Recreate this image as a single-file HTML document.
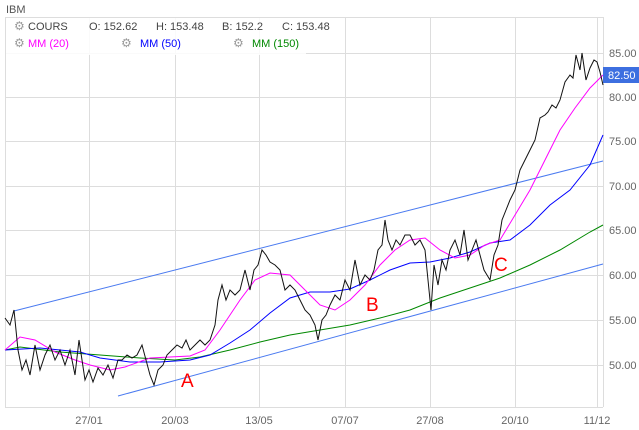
<!DOCTYPE html>
<html><head><style>
body{margin:0;background:#fff;}
svg{display:block;font-family:"Liberation Sans",Arial,sans-serif;}
</style></head><body>
<svg width="639" height="430" viewBox="0 0 639 430">
<rect width="639" height="430" fill="#fff"/>
<g stroke="#ddd" stroke-width="1">
<line x1="5.5" y1="17" x2="5.5" y2="407"/>
<line x1="89.5" y1="17" x2="89.5" y2="407"/>
<line x1="175.5" y1="17" x2="175.5" y2="407"/>
<line x1="259.5" y1="17" x2="259.5" y2="407"/>
<line x1="345.5" y1="17" x2="345.5" y2="407"/>
<line x1="430.5" y1="17" x2="430.5" y2="407"/>
<line x1="515.5" y1="17" x2="515.5" y2="407"/>
<line x1="597.5" y1="17" x2="597.5" y2="407"/>
<line x1="603.5" y1="17" x2="603.5" y2="407"/>
<line x1="5" y1="17.5" x2="603" y2="17.5"/>
<line x1="5" y1="53.5" x2="603" y2="53.5"/>
<line x1="5" y1="97.5" x2="603" y2="97.5"/>
<line x1="5" y1="141.5" x2="603" y2="141.5"/>
<line x1="5" y1="186.5" x2="603" y2="186.5"/>
<line x1="5" y1="230.5" x2="603" y2="230.5"/>
<line x1="5" y1="275.5" x2="603" y2="275.5"/>
<line x1="5" y1="320.5" x2="603" y2="320.5"/>
<line x1="5" y1="365.5" x2="603" y2="365.5"/>
<line x1="5" y1="407.5" x2="603" y2="407.5"/>
</g>
<rect x="6" y="18" width="300" height="37" fill="#fff" opacity="0.85"/>
<g font-size="11">
<text x="6" y="13" fill="#555">IBM</text>
<text x="14" y="30" fill="#999" font-size="12">⚙</text>
<text x="28" y="30" fill="#444">COURS</text>
<text x="89" y="30" fill="#444">O: 152.62</text>
<text x="156" y="30" fill="#444">H: 153.48</text>
<text x="222" y="30" fill="#444">B: 152.2</text>
<text x="282" y="30" fill="#444">C: 153.48</text>
<text x="14" y="47" fill="#999" font-size="12">⚙</text>
<text x="28" y="47" fill="#f0f">MM (20)</text>
<text x="121" y="47" fill="#999" font-size="12">⚙</text>
<text x="140" y="47" fill="#00f">MM (50)</text>
<text x="233" y="47" fill="#999" font-size="12">⚙</text>
<text x="252" y="47" fill="#080">MM (150)</text>
</g>
<g font-size="11" fill="#666">
<text x="609" y="57">85.00</text>
<text x="609" y="101">80.00</text>
<text x="609" y="145">75.00</text>
<text x="609" y="190">70.00</text>
<text x="609" y="234">65.00</text>
<text x="609" y="279">60.00</text>
<text x="609" y="324">55.00</text>
<text x="609" y="369">50.00</text>
<text x="89" y="424" text-anchor="middle">27/01</text>
<text x="175" y="424" text-anchor="middle">20/03</text>
<text x="259" y="424" text-anchor="middle">13/05</text>
<text x="345" y="424" text-anchor="middle">07/07</text>
<text x="430" y="424" text-anchor="middle">27/08</text>
<text x="515" y="424" text-anchor="middle">20/10</text>
<text x="597" y="424" text-anchor="middle">11/12</text>
</g>
<g fill="none" stroke-width="1">
<line x1="14" y1="311" x2="603" y2="161" stroke="#4a7af0"/>
<line x1="118" y1="396" x2="603" y2="264" stroke="#4a7af0"/>
<polyline stroke="#080" points="5,350 20,347 60,352 100,355 140,358 175,360 200,357 230,350 260,342 290,335 320,330 350,325 380,318 410,310 440,298 470,288 500,278 530,265 560,250 590,232 603,225"/>
<polyline stroke="#00f" points="5,350 40,348 80,352 100,358 130,362 160,362 190,360 210,355 230,343 250,330 270,313 290,298 310,292 330,292 350,289 370,280 390,270 410,263 430,262 450,258 470,252 490,243 510,240 530,225 550,205 570,190 590,165 603,135"/>
<polyline stroke="#f0f" points="5,350 20,337 35,340 55,352 75,360 90,365 110,370 125,367 150,358 170,357 190,356 205,350 220,330 240,300 255,280 270,273 290,275 305,290 320,305 335,310 350,300 365,285 380,265 395,250 410,240 425,238 440,250 455,258 470,255 485,245 500,240 515,215 530,190 545,160 560,130 575,108 590,88 603,75"/>
<polyline stroke="#111" points="5,318 10,325 14,310 18,350 22,370 26,360 30,375 35,345 40,370 45,355 50,345 55,360 60,350 65,365 70,350 75,375 79,340 82,360 85,380 89,370 93,382 98,368 103,375 108,365 113,378 118,360 122,360 127,355 132,358 137,355 142,345 146,360 150,375 154,385 158,370 163,365 167,355 172,350 177,345 182,348 186,340 190,350 195,345 200,340 205,345 210,340 215,325 218,300 222,285 226,300 230,290 235,295 240,290 245,270 250,290 254,270 258,265 262,250 266,255 270,262 275,265 280,270 285,290 290,285 295,290 300,300 305,310 310,315 315,325 318,340 322,320 326,315 330,305 335,295 340,300 345,280 350,290 355,260 360,285 365,275 370,280 374,270 378,250 382,245 385,220 388,240 392,250 396,240 400,245 405,235 410,235 415,245 420,240 425,250 428,280 431,310 434,265 438,285 442,260 446,270 450,250 455,240 460,255 464,230 468,260 472,250 476,240 480,255 484,270 487,275 490,280 494,255 498,245 502,220 506,210 510,200 515,190 520,170 525,160 530,150 535,140 540,118 545,115 548,112 552,105 556,108 560,100 565,82 570,75 573,78 576,55 580,70 582,53 586,80 590,68 594,60 597,62 600,72 603,85"/>
</g>
<rect x="603" y="67" width="36" height="16" fill="#3d6fe0"/>
<text x="608" y="79" font-size="11" fill="#fff">82.50</text>
<g font-size="19" fill="#f00">
<text x="181" y="387">A</text>
<text x="366" y="311">B</text>
<text x="494" y="271">C</text>
</g>
</svg>
</body></html>
